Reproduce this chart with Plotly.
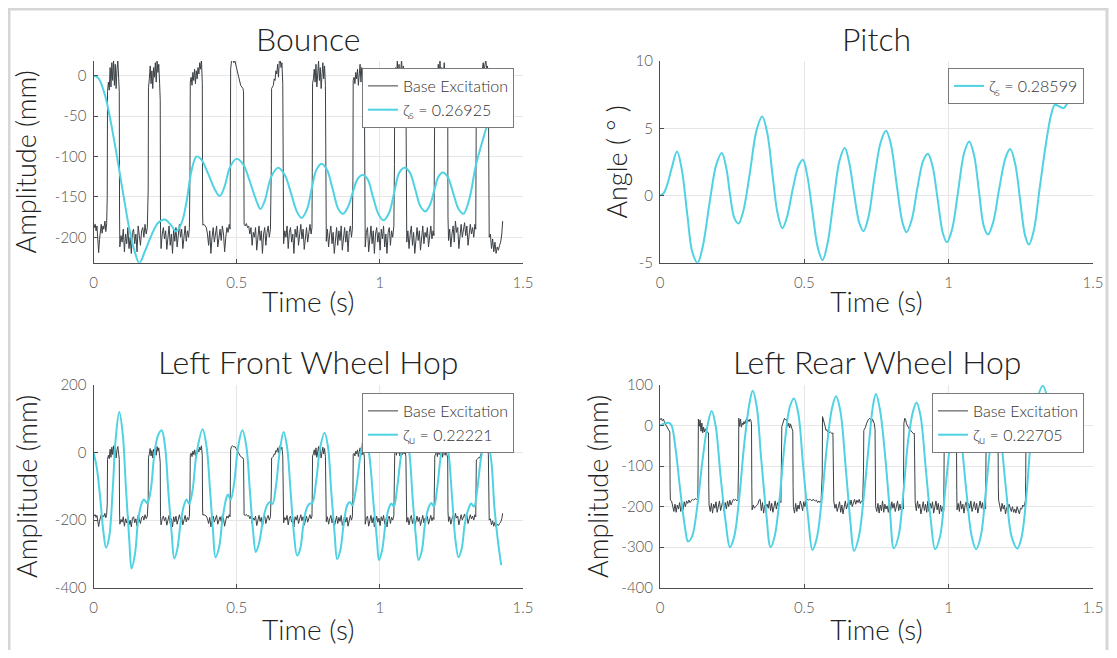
import plotly.graph_objects as go

# ---------------- data ----------------
x_ticks = [0, 0.5, 1, 1.5]
x_ticklabels = ["0", "0.5", "1", "1.5"]

bounce_yticks = [-200, -150, -100, -50, 0]
pitch_yticks = [-5, 0, 5, 10]
front_yticks = [-400, -200, 0, 200]
rear_yticks = [-400, -300, -200, -100, 0, 100]

# Base excitation seen by the front wheel (also shown in Bounce): (time s, mm)
front_base = [
    (0.000, -182), (0.003, -188), (0.006, -184), (0.009, -192), (0.012, -186), (0.015, -205), (0.018, -219),
    (0.021, -203), (0.024, -188), (0.027, -184), (0.030, -195), (0.033, -186), (0.036, -190), (0.040, -180),
    (0.043, -193), (0.046, -183),
    (0.048, -150), (0.049, -20), (0.052, -8), (0.055, -18), (0.058, 10), (0.061, -14), (0.064, 16), (0.067, -6),
    (0.070, 20), (0.073, -12), (0.076, 14), (0.079, -16), (0.082, 8), (0.085, 18), (0.088, -4), (0.090, -20),
    (0.091, -170), (0.092, -212), (0.096, -198), (0.100, -206), (0.104, -190), (0.108, -218), (0.112, -196),
    (0.116, -208), (0.120, -188), (0.124, -214), (0.128, -200), (0.132, -220), (0.136, -194), (0.140, -190),
    (0.144, -208), (0.148, -196), (0.152, -218), (0.156, -186), (0.160, -198), (0.164, -210), (0.168, -192),
    (0.172, -188), (0.176, -200), (0.180, -184), (0.184, -196), (0.188, -188),
    (0.191, -140), (0.192, -15), (0.195, -4), (0.198, 12), (0.201, -10), (0.204, 6), (0.207, -16), (0.210, 10),
    (0.213, -2), (0.216, 16), (0.219, -8), (0.222, 18), (0.225, 4), (0.228, 14), (0.231, -10), (0.233, -30),
    (0.234, -190), (0.236, -214), (0.240, -196), (0.244, -188), (0.248, -202), (0.252, -192), (0.256, -215),
    (0.260, -198), (0.264, -186), (0.268, -210), (0.272, -196), (0.276, -220), (0.280, -190), (0.284, -205),
    (0.288, -188), (0.292, -212), (0.296, -194), (0.300, -184), (0.304, -200), (0.308, -190), (0.312, -214),
    (0.316, -196), (0.320, -186), (0.324, -205), (0.328, -192), (0.332, -200), (0.335, -188),
    (0.337, -120), (0.338, -8), (0.341, -2), (0.344, -12), (0.347, 4), (0.350, -6), (0.353, 8), (0.356, -10),
    (0.359, 6), (0.362, -4), (0.365, 10), (0.368, 2), (0.371, 16), (0.374, 8), (0.377, 20), (0.380, -10),
    (0.381, -170), (0.382, -185), (0.386, -184), (0.390, -186), (0.394, -188), (0.398, -196), (0.402, -210),
    (0.406, -192), (0.410, -220), (0.414, -200), (0.418, -188), (0.422, -206), (0.426, -194), (0.430, -186),
    (0.434, -212), (0.438, -198), (0.442, -190), (0.446, -204), (0.450, -186), (0.454, -196), (0.458, -218),
    (0.462, -200), (0.466, -188), (0.470, -194), (0.474, -184), (0.477, -190),
    (0.478, -100), (0.479, 8), (0.482, 18), (0.486, 20), (0.490, 16), (0.494, 18), (0.498, 12), (0.502, 6),
    (0.506, -2), (0.510, -8), (0.514, -12), (0.518, -14), (0.522, -16), (0.524, -20),
    (0.525, -170), (0.526, -184), (0.530, -186), (0.534, -183), (0.538, -188), (0.542, -186), (0.546, -196),
    (0.550, -188), (0.554, -210), (0.558, -194), (0.562, -200), (0.566, -188), (0.570, -216), (0.574, -198),
    (0.578, -186), (0.582, -204), (0.586, -192), (0.590, -220), (0.594, -196), (0.598, -188), (0.602, -210),
    (0.606, -194), (0.610, -186), (0.614, -200), (0.618, -190),
    (0.621, -110), (0.622, -16), (0.625, -14), (0.628, -12), (0.631, -4), (0.634, -6), (0.637, 6), (0.640, 2),
    (0.643, 14), (0.646, -2), (0.649, 18), (0.652, 20), (0.655, 10), (0.658, 16), (0.661, -10),
    (0.662, -180), (0.664, -208), (0.668, -192), (0.672, -200), (0.676, -186), (0.680, -214), (0.684, -194),
    (0.688, -188), (0.692, -206), (0.696, -196), (0.700, -220), (0.704, -190), (0.708, -200), (0.712, -186),
    (0.716, -210), (0.720, -194), (0.724, -184), (0.728, -202), (0.732, -190), (0.736, -215), (0.740, -196),
    (0.744, -188), (0.748, -206), (0.752, -192), (0.756, -184), (0.760, -196), (0.763, -188),
    (0.764, -120), (0.765, -10), (0.768, -4), (0.771, 8), (0.774, -8), (0.777, 14), (0.780, -14), (0.783, 4),
    (0.786, 18), (0.789, -6), (0.792, 10), (0.795, -16), (0.798, 6), (0.801, 16), (0.804, -4), (0.807, 12),
    (0.810, -12),
    (0.811, -175), (0.813, -205), (0.817, -190), (0.821, -212), (0.825, -196), (0.829, -186), (0.833, -208),
    (0.837, -194), (0.841, -220), (0.845, -198), (0.849, -188), (0.853, -210), (0.857, -192), (0.861, -204),
    (0.865, -186), (0.869, -216), (0.873, -196), (0.877, -188), (0.881, -206), (0.885, -192), (0.889, -218),
    (0.893, -194), (0.897, -186), (0.901, -200), (0.904, -190),
    (0.906, -130), (0.907, -6), (0.910, -2), (0.913, -10), (0.916, 4), (0.919, -4), (0.922, 8), (0.925, -12),
    (0.928, 2), (0.931, 14), (0.934, -8), (0.937, 10), (0.940, -6), (0.943, 6), (0.946, -14),
    (0.947, -180), (0.949, -212), (0.953, -194), (0.957, -188), (0.961, -218), (0.965, -198), (0.969, -186),
    (0.973, -208), (0.977, -192), (0.981, -220), (0.985, -196), (0.989, -188), (0.993, -206), (0.997, -194),
    (1.001, -216), (1.005, -190), (1.009, -202), (1.013, -186), (1.017, -212), (1.021, -196), (1.025, -220),
    (1.029, -194), (1.033, -188), (1.037, -210), (1.041, -192), (1.045, -200), (1.049, -186),
    (1.051, -110), (1.052, -4), (1.055, 10), (1.058, -8), (1.061, 18), (1.064, -2), (1.067, 14), (1.070, -10),
    (1.073, 6), (1.076, 20), (1.079, -6), (1.082, 12), (1.085, -4), (1.088, 8), (1.091, -12),
    (1.092, -180), (1.094, -206), (1.098, -192), (1.102, -214), (1.106, -196), (1.110, -186), (1.114, -210),
    (1.118, -194), (1.122, -220), (1.126, -198), (1.130, -188), (1.134, -204), (1.138, -192), (1.142, -216),
    (1.146, -196), (1.150, -186), (1.154, -208), (1.158, -194), (1.162, -200), (1.166, -188), (1.170, -212),
    (1.174, -196), (1.178, -186), (1.182, -202), (1.186, -192), (1.189, -198),
    (1.191, -120), (1.192, -10), (1.195, -4), (1.198, 6), (1.201, -12), (1.204, 14), (1.207, -6), (1.210, 18),
    (1.213, -2), (1.216, 10), (1.219, -14), (1.222, 4), (1.225, 16), (1.228, -8), (1.231, 8), (1.234, -6),
    (1.237, -16),
    (1.238, -175), (1.240, -204), (1.244, -190), (1.248, -212), (1.252, -196), (1.256, -186), (1.260, -206),
    (1.264, -180), (1.268, -194), (1.272, -188), (1.276, -214), (1.280, -192), (1.284, -184), (1.288, -200),
    (1.292, -190), (1.296, -182), (1.300, -198), (1.304, -186), (1.308, -210), (1.312, -194), (1.316, -184),
    (1.320, -196), (1.324, -188), (1.328, -200), (1.332, -184), (1.335, -190),
    (1.336, -100), (1.337, -22), (1.340, -20), (1.343, -18), (1.346, -14), (1.349, -16), (1.352, -8), (1.355, 2),
    (1.358, 10), (1.361, 16), (1.364, 6), (1.367, 18), (1.370, 20), (1.373, 8), (1.376, 12), (1.379, -6),
    (1.381, -170), (1.382, -200), (1.386, -196), (1.390, -214), (1.394, -202), (1.398, -218), (1.402, -206),
    (1.406, -220), (1.410, -212), (1.414, -216), (1.418, -210), (1.422, -206), (1.426, -196), (1.429, -180),
]

# Base excitation seen by the rear wheel: (time s, mm)
rear_base = [
    (0.000, 14), (0.004, 18), (0.008, 12), (0.012, 16), (0.016, 7), (0.020, 2), (0.024, -2), (0.028, -8),
    (0.031, -12), (0.034, -16),
    (0.035, -150), (0.036, -184), (0.040, -186), (0.044, -200), (0.048, -212), (0.052, -194), (0.056, -214),
    (0.060, -196), (0.064, -206), (0.068, -190), (0.072, -212), (0.076, -194), (0.080, -208), (0.084, -188),
    (0.088, -200), (0.092, -186), (0.096, -192), (0.100, -184), (0.104, -190), (0.108, -186), (0.112, -182),
    (0.116, -184), (0.120, -182), (0.124, -180), (0.128, -183), (0.131, -180),
    (0.132, -100), (0.133, 16), (0.136, -2), (0.139, 14), (0.142, -14), (0.145, 6), (0.148, -18), (0.151, -4),
    (0.154, -16), (0.157, -8), (0.160, -14), (0.164, -16), (0.168, -18),
    (0.169, -150), (0.170, -196), (0.174, -212), (0.178, -192), (0.182, -216), (0.186, -194), (0.190, -204),
    (0.194, -188), (0.198, -214), (0.202, -198), (0.206, -186), (0.210, -210), (0.214, -196), (0.218, -184),
    (0.222, -212), (0.226, -190), (0.230, -206), (0.234, -186), (0.238, -200), (0.242, -184), (0.246, -196),
    (0.250, -186), (0.254, -182), (0.258, -184), (0.262, -182), (0.266, -186), (0.270, -183),
    (0.272, -100), (0.273, 18), (0.276, -2), (0.279, 16), (0.282, -4), (0.285, 6), (0.288, 2), (0.291, 10),
    (0.294, 4), (0.297, 14), (0.300, 18), (0.303, 8), (0.306, 14), (0.309, 10), (0.312, 16), (0.315, 12),
    (0.317, 4),
    (0.318, -150), (0.319, -208), (0.323, -196), (0.327, -204), (0.331, -200), (0.335, -198), (0.339, -194),
    (0.343, -184), (0.347, -182), (0.351, -210), (0.355, -190), (0.359, -216), (0.363, -196), (0.367, -200),
    (0.371, -194), (0.375, -204), (0.379, -186), (0.383, -210), (0.387, -192), (0.391, -214), (0.395, -196),
    (0.399, -186), (0.403, -206), (0.407, -190), (0.411, -200), (0.415, -186), (0.419, -190),
    (0.421, -120), (0.422, -2), (0.425, 4), (0.428, 16), (0.431, 18), (0.434, 14), (0.437, 16), (0.440, 10),
    (0.443, -2), (0.446, 6), (0.449, -6), (0.452, 4), (0.455, -4), (0.458, -10), (0.460, -14),
    (0.461, -150), (0.462, -200), (0.466, -216), (0.470, -192), (0.474, -212), (0.478, -196), (0.482, -206),
    (0.486, -186), (0.490, -196), (0.494, -210), (0.498, -188), (0.502, -200), (0.506, -184), (0.510, -182),
    (0.514, -184), (0.518, -182), (0.522, -183), (0.526, -186), (0.530, -182), (0.534, -184), (0.538, -186),
    (0.542, -184), (0.546, -190), (0.550, -186), (0.554, -190), (0.558, -186),
    (0.562, -120), (0.563, 22), (0.566, 16), (0.569, 6), (0.572, -2), (0.575, -12), (0.578, -10), (0.581, -16),
    (0.584, -14), (0.587, -18), (0.590, -16), (0.593, -18), (0.596, -20), (0.599, -18),
    (0.601, -150), (0.602, -186), (0.606, -204), (0.610, -194), (0.614, -212), (0.618, -200), (0.622, -188),
    (0.626, -214), (0.630, -196), (0.634, -218), (0.638, -198), (0.642, -186), (0.646, -206), (0.650, -192),
    (0.654, -184), (0.658, -196), (0.662, -184), (0.666, -200), (0.670, -188), (0.674, -182), (0.678, -194),
    (0.682, -184), (0.686, -190), (0.690, -182), (0.694, -192), (0.698, -186), (0.702, -188),
    (0.705, -110), (0.706, -12), (0.709, -8), (0.712, -4), (0.715, 4), (0.718, 10), (0.721, 14), (0.724, 16),
    (0.727, 18), (0.730, 14), (0.733, 8), (0.736, 16), (0.739, 12), (0.742, 6), (0.745, -10),
    (0.746, -160), (0.747, -200), (0.751, -212), (0.755, -192), (0.759, -216), (0.763, -196), (0.767, -210),
    (0.771, -186), (0.775, -214), (0.779, -194), (0.783, -206), (0.787, -198), (0.791, -214), (0.795, -190),
    (0.799, -210), (0.803, -188), (0.807, -204), (0.811, -192), (0.815, -212), (0.819, -196), (0.823, -186),
    (0.827, -210), (0.831, -194), (0.835, -208), (0.839, -200), (0.843, -206),
    (0.844, -120), (0.845, 6), (0.848, 18), (0.851, 14), (0.854, 4), (0.857, -2), (0.860, -4), (0.863, -8),
    (0.866, -10), (0.869, -14), (0.872, -16), (0.875, -18), (0.878, -20), (0.881, -19),
    (0.883, -150), (0.884, -190), (0.888, -210), (0.892, -186), (0.896, -204), (0.900, -194), (0.904, -218),
    (0.908, -198), (0.912, -188), (0.916, -210), (0.920, -194), (0.924, -214), (0.928, -186), (0.932, -212),
    (0.936, -192), (0.940, -204), (0.944, -188), (0.948, -216), (0.952, -196), (0.956, -186), (0.960, -208),
    (0.964, -192), (0.968, -218), (0.972, -196), (0.976, -212), (0.980, -200), (0.983, -210),
    (0.984, -120), (0.985, 2), (0.990, 14), (0.995, -6), (1.000, 10), (1.005, -10), (1.010, 16), (1.015, -4),
    (1.020, 8), (1.025, -12), (1.027, -16),
    (1.028, -160), (1.029, -208), (1.033, -192), (1.037, -212), (1.041, -186), (1.045, -206), (1.049, -194),
    (1.053, -216), (1.057, -196), (1.061, -188), (1.065, -210), (1.069, -192), (1.073, -204), (1.077, -186),
    (1.081, -212), (1.085, -196), (1.089, -188), (1.093, -208), (1.097, -192), (1.101, -216), (1.105, -198),
    (1.109, -186), (1.113, -204), (1.117, -190), (1.121, -212), (1.125, -196), (1.128, -206),
    (1.129, -120), (1.130, -4), (1.135, 10), (1.140, -8), (1.145, 14), (1.150, -2), (1.155, 12), (1.160, -10),
    (1.165, 6), (1.170, -14), (1.171, -18),
    (1.172, -150), (1.173, -184), (1.177, -198), (1.181, -212), (1.185, -192), (1.189, -206), (1.193, -196),
    (1.197, -218), (1.201, -202), (1.205, -210), (1.209, -194), (1.213, -206), (1.217, -212), (1.221, -200),
    (1.225, -214), (1.229, -206), (1.233, -216), (1.237, -200), (1.241, -212), (1.245, -218), (1.249, -204),
    (1.253, -206), (1.257, -196), (1.261, -200), (1.265, -188), (1.266, -184),
    (1.267, -120), (1.268, -10), (1.272, 6), (1.276, -4),
]

# Responses (time s, value)
bounce_resp = [
    (0.000, 0), (0.017, -3), (0.040, -24), (0.058, -53), (0.081, -98), (0.104, -147), (0.127, -193),
    (0.145, -219), (0.160, -232), (0.180, -217), (0.203, -197), (0.226, -182), (0.249, -178), (0.273, -186),
    (0.288, -193), (0.308, -182), (0.325, -156), (0.342, -118), (0.360, -100), (0.377, -104), (0.400, -121),
    (0.424, -141), (0.441, -149), (0.458, -137), (0.476, -114), (0.499, -103), (0.523, -110), (0.546, -131),
    (0.569, -155), (0.583, -165), (0.598, -155), (0.621, -125), (0.645, -114), (0.668, -123), (0.691, -147),
    (0.710, -168), (0.726, -176), (0.745, -166), (0.762, -140), (0.778, -117), (0.796, -109), (0.815, -116),
    (0.835, -140), (0.855, -165), (0.871, -171), (0.888, -163), (0.905, -145), (0.922, -128), (0.939, -123),
    (0.957, -128), (0.976, -150), (0.996, -172), (1.013, -179), (1.032, -170), (1.050, -145), (1.068, -120),
    (1.087, -114), (1.105, -120), (1.123, -140), (1.142, -162), (1.159, -168), (1.175, -160), (1.190, -142),
    (1.205, -125), (1.220, -120), (1.238, -126), (1.256, -145), (1.275, -165), (1.292, -171), (1.313, -152),
    (1.336, -110), (1.365, -73), (1.383, -51), (1.400, -25), (1.410, -8),
]

pitch_resp = [
    (0.000, 0), (0.012, 0.15), (0.025, 0.8), (0.040, 2.0), (0.059, 3.28), (0.075, 2.0), (0.095, -1.5),
    (0.112, -4.2), (0.130, -5.0), (0.148, -3.8), (0.172, -0.5), (0.195, 2.3), (0.214, 3.16), (0.230, 2.0),
    (0.243, 0.0), (0.258, -1.7), (0.272, -2.08), (0.288, -1.2), (0.310, 1.5), (0.335, 4.9), (0.354, 5.87),
    (0.372, 4.6), (0.390, 1.5), (0.408, -1.4), (0.424, -2.43), (0.440, -1.6), (0.460, 0.5), (0.480, 2.2),
    (0.495, 2.66), (0.510, 1.5), (0.528, -1.2), (0.547, -3.9), (0.563, -4.8), (0.580, -3.6), (0.600, -0.6),
    (0.622, 2.6), (0.640, 3.53), (0.655, 2.5), (0.672, 0.2), (0.690, -2.0), (0.705, -2.65), (0.722, -1.6),
    (0.742, 1.2), (0.765, 4.0), (0.783, 4.81), (0.800, 3.8), (0.820, 0.8), (0.840, -2.0), (0.854, -2.73),
    (0.872, -1.8), (0.892, 0.6), (0.912, 2.6), (0.928, 3.11), (0.944, 2.2), (0.962, -0.3), (0.980, -2.8),
    (0.994, -3.47), (1.012, -2.5), (1.032, 0.2), (1.054, 3.2), (1.071, 4.02), (1.088, 3.0), (1.105, 0.3),
    (1.122, -2.3), (1.136, -2.9), (1.154, -2.0), (1.175, 0.5), (1.197, 2.8), (1.213, 3.45), (1.230, 2.4),
    (1.248, -0.4), (1.265, -3.0), (1.278, -3.64), (1.295, -2.6), (1.315, 0.5), (1.338, 4.0), (1.355, 6.0),
    (1.368, 6.74), (1.385, 6.6), (1.399, 6.5), (1.412, 6.9), (1.423, 7.36), (1.432, 7.9),
]

front_resp = [
    (0.000, 0), (0.011, -42), (0.023, -131), (0.034, -230), (0.044, -282), (0.055, -249), (0.067, -111),
    (0.078, 46), (0.090, 120), (0.102, 56), (0.113, -101), (0.125, -259), (0.133, -343), (0.145, -299),
    (0.156, -200), (0.168, -151), (0.176, -139), (0.188, -150), (0.200, -110), (0.212, -10), (0.225, 50),
    (0.238, 66), (0.250, 17), (0.261, -111), (0.273, -239), (0.282, -313), (0.292, -289), (0.304, -210),
    (0.316, -156), (0.325, -139), (0.334, -152), (0.346, -111), (0.360, -3), (0.381, 69), (0.395, 17),
    (0.407, -111), (0.418, -239), (0.426, -310), (0.439, -279), (0.450, -200), (0.465, -131), (0.470, -124),
    (0.479, -140), (0.491, -92), (0.505, 17), (0.520, 66), (0.534, 17), (0.546, -111), (0.557, -230),
    (0.567, -294), (0.578, -269), (0.592, -200), (0.606, -156), (0.616, -146), (0.625, -152), (0.637, -101),
    (0.651, 7), (0.664, 61), (0.676, 17), (0.688, -111), (0.700, -239), (0.711, -305), (0.722, -285),
    (0.732, -220), (0.744, -166), (0.755, -151), (0.764, -150), (0.778, -82), (0.792, 17), (0.807, 59),
    (0.819, 17), (0.830, -111), (0.842, -239), (0.851, -315), (0.862, -289), (0.874, -210), (0.886, -156),
    (0.895, -146), (0.904, -156), (0.918, -101), (0.935, 7), (0.950, 56), (0.964, -13), (0.978, -151),
    (0.990, -259), (0.997, -318), (1.008, -289), (1.020, -210), (1.031, -166), (1.040, -151), (1.049, -160),
    (1.061, -101), (1.075, -3), (1.090, 56), (1.104, -8), (1.115, -141), (1.127, -259), (1.135, -318),
    (1.147, -289), (1.158, -210), (1.171, -161), (1.180, -149), (1.189, -160), (1.201, -101), (1.214, -3),
    (1.230, 56), (1.241, -8), (1.253, -141), (1.264, -259), (1.275, -310), (1.286, -284), (1.297, -210),
    (1.310, -166), (1.319, -151), (1.329, -160), (1.340, -111), (1.354, -13), (1.372, 51), (1.389, -23),
    (1.400, -161), (1.412, -259), (1.424, -333),
]

rear_resp = [
    (0.000, 0), (0.012, 4), (0.029, 7), (0.039, 2), (0.053, -52), (0.070, -159), (0.088, -258), (0.097, -286),
    (0.111, -274), (0.129, -200), (0.146, -93), (0.164, -2), (0.179, 36), (0.193, -2), (0.210, -126),
    (0.228, -241), (0.242, -300), (0.257, -274), (0.275, -175), (0.292, -44), (0.310, 55), (0.321, 86),
    (0.335, 47), (0.350, -77), (0.368, -216), (0.383, -300), (0.397, -274), (0.415, -175), (0.432, -44),
    (0.450, 47), (0.464, 67), (0.479, 30), (0.496, -101), (0.514, -233), (0.528, -307), (0.543, -278),
    (0.561, -179), (0.578, -52), (0.596, 43), (0.610, 72), (0.625, 35), (0.643, -101), (0.660, -241),
    (0.672, -309), (0.689, -274), (0.707, -167), (0.724, -44), (0.737, 45), (0.748, 78), (0.762, 39),
    (0.779, -68), (0.797, -216), (0.810, -303), (0.826, -274), (0.843, -167), (0.860, -35), (0.878, 39),
    (0.889, 57), (0.903, 22), (0.920, -101), (0.938, -233), (0.953, -305), (0.970, -274), (0.987, -167),
    (1.005, -44), (1.025, 70), (1.045, -44), (1.062, -167), (1.080, -274), (1.095, -305), (1.111, -274),
    (1.128, -167), (1.145, -44), (1.164, 70), (1.183, -44), (1.200, -167), (1.218, -274), (1.238, -303),
    (1.253, -274), (1.270, -167), (1.284, -44), (1.305, 60), (1.326, 98), (1.345, 60), (1.355, 20),
]

legend_base = "Base Excitation"
legend_bounce = "ζ<sub>s</sub> = 0.26925"
legend_pitch = "ζ<sub>s</sub> = 0.28599"
legend_front = "ζ<sub>u</sub> = 0.22221"
legend_rear = "ζ<sub>u</sub> = 0.22705"

titles = ["Bounce", "Pitch", "Left Front Wheel Hop", "Left Rear Wheel Hop"]
ylabels = ["Amplitude (mm)", "Angle ( ° )", "Amplitude (mm)", "Amplitude (mm)"]
xlabel = "Time (s)"

# ---------------- styling / layout ----------------
# The page body has an 8 px margin, so the figure is drawn 8 px in from the window edge.
OFF = 8
W, H = 1117 - 2 * OFF, 658 - 2 * OFF
FONT = "Lato"
CYAN = "#4fd2e2"
DARK = "#3b4045"
AXC = "#4d4d4d"
GRID = "#e6e6e6"


def px(x):
    return (x - OFF) / W


def py(y):
    return 1 - (y - OFF) / H


def split(pairs):
    return [p[0] for p in pairs], [p[1] for p in pairs]


# axis boxes in window pixels: (left, right, top, bottom)
boxes = [(93.5, 523, 61, 262.8), (660, 1093, 61, 262.8),
         (93.5, 523, 385, 587.7), (660, 1093, 385, 587.7)]

fig = go.Figure()

series = [
    (front_base, bounce_resp, legend_bounce, 1, "legend"),
    (None, pitch_resp, legend_pitch, 2, "legend2"),
    (front_base, front_resp, legend_front, 3, "legend3"),
    (rear_base, rear_resp, legend_rear, 4, "legend4"),
]

for base, resp, lab, k, lg in series:
    xa = "x" if k == 1 else f"x{k}"
    ya = "y" if k == 1 else f"y{k}"
    if base is not None:
        bt, bv = split(base)
        fig.add_trace(go.Scatter(x=bt, y=bv, mode="lines", name=legend_base,
                                 line=dict(color=DARK, width=1), xaxis=xa, yaxis=ya, legend=lg))
    rt, rv = split(resp)
    fig.add_trace(go.Scatter(x=rt, y=rv, mode="lines", name=lab,
                             line=dict(color=CYAN, width=2, shape="spline", smoothing=1.0),
                             xaxis=xa, yaxis=ya, legend=lg))

yranges = [[-231.6, 18.1], [-5, 10], [-400, 200], [-400, 100]]
yticks = [bounce_yticks, pitch_yticks, front_yticks, rear_yticks]
ytitle_standoff = [10, 0, 9, 4]
xtitle_standoff = [2, 2, 5, 5]

layout = dict(
    width=W, height=H, margin=dict(l=0, r=0, t=0, b=0),
    paper_bgcolor="white", plot_bgcolor="white",
    font=dict(family=FONT, color="#333333", weight=300),
    showlegend=True,
)

axis_common = dict(showline=True, linecolor=AXC, linewidth=1, ticks="inside", ticklen=4,
                   tickcolor=AXC, showgrid=True, gridcolor=GRID, gridwidth=1, zeroline=False,
                   tickfont=dict(family=FONT, size=15, color="#555555", weight=300), fixedrange=True,
                   automargin=False)

annotations = []
for i, (l, r, t, b) in enumerate(boxes):
    k = i + 1
    xs = "xaxis" if k == 1 else f"xaxis{k}"
    ys = "yaxis" if k == 1 else f"yaxis{k}"
    layout[xs] = dict(axis_common, domain=[px(l), px(r)], range=[0, 1.5],
                      tickvals=x_ticks, ticktext=x_ticklabels,
                      anchor="y" if k == 1 else f"y{k}", ticklabelstandoff=6,
                      title=dict(text=xlabel, standoff=xtitle_standoff[i],
                                 font=dict(family=FONT, size=28, color="#222222", weight=300)))
    layout[ys] = dict(axis_common, domain=[py(b), py(t)], range=yranges[i],
                      tickvals=yticks[i], ticktext=[str(v) for v in yticks[i]],
                      anchor="x" if k == 1 else f"x{k}", ticklabelstandoff=3,
                      title=dict(text=ylabels[i], standoff=ytitle_standoff[i],
                                 font=dict(family=FONT, size=27, color="#222222", weight=300)))
    cx = (l + r) / 2
    annotations.append(dict(text=titles[i], x=px(cx), y=py(t - 23), xref="paper", yref="paper",
                            showarrow=False, xanchor="center", yanchor="middle",
                            font=dict(family=FONT, size=32, color="#222222", weight=300)))

legend_common = dict(bgcolor="white", bordercolor="#7a7a7a", borderwidth=1,
                     font=dict(family=FONT, size=16, color="#333333", weight=300),
                     xanchor="right", yanchor="top",
                     itemwidth=30, tracegroupgap=0, traceorder="normal")
layout["legend"] = dict(legend_common, x=px(514), y=py(68))
layout["legend2"] = dict(legend_common, x=px(1084), y=py(68))
layout["legend3"] = dict(legend_common, x=px(514), y=py(393))
layout["legend4"] = dict(legend_common, x=px(1084), y=py(393))

layout["annotations"] = annotations
layout["shapes"] = [dict(type="rect", xref="paper", yref="paper", x0=px(9), x1=px(1107), y0=-0.1,
                         y1=py(9), line=dict(color="#d6d6d6", width=3), fillcolor="rgba(0,0,0,0)",
                         layer="below")]

fig.update_layout(**layout)
fig.write_html("out.html")
